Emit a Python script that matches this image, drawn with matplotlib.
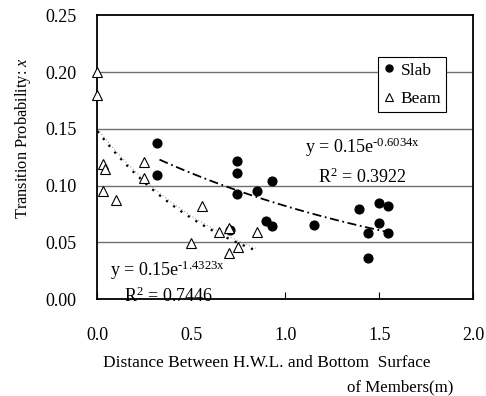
import numpy as np
import matplotlib.pyplot as plt

plt.rcParams['font.family'] = ['Liberation Serif', 'DejaVu Serif']
plt.rcParams['mathtext.fontset'] = 'custom'
plt.rcParams['mathtext.rm'] = 'Liberation Serif'
plt.rcParams['mathtext.it'] = 'Liberation Serif:italic'

# Slab points (distance m, transition probability)
slab_x = [0.315, 0.315, 0.743, 0.743, 0.743, 0.849, 0.927, 0.897, 0.927, 0.707,
          1.154, 1.394, 1.50, 1.548, 1.50, 1.441, 1.548, 1.441]
slab_y = [0.138, 0.109, 0.122, 0.111, 0.093, 0.095, 0.104, 0.069, 0.064, 0.061,
          0.065, 0.079, 0.085, 0.082, 0.067, 0.058, 0.058, 0.036]

# Beam points
beam_x = [0.0, 0.0, 0.028, 0.041, 0.028, 0.096, 0.25, 0.25, 0.557, 0.50,
          0.649, 0.698, 0.698, 0.748, 0.849]
beam_y = [0.200, 0.180, 0.119, 0.115, 0.095, 0.087, 0.121, 0.107, 0.082, 0.049,
          0.059, 0.063, 0.041, 0.046, 0.059]

# exponential trend lines y = a*exp(b*x), shown on the chart
slab_a, slab_b, slab_r2 = 0.15, -0.6034, 0.3922
beam_a, beam_b, beam_r2 = 0.15, -1.4323, 0.7446
slab_range = (0.33, 1.55)
beam_range = (0.0, 0.85)

fig = plt.figure(figsize=(4.86, 3.96), dpi=100)
ax = fig.add_axes([0.2006, 0.2449, 0.7733, 0.7160])

for y in [0.05, 0.10, 0.15, 0.20]:
    ax.axhline(y, color='#707070', linewidth=1.0, zorder=0)

xs = np.linspace(*beam_range, 60)
ax.plot(xs, beam_a * np.exp(beam_b * xs), color='#a0a0a0', linestyle=(0, (1, 2)), linewidth=0.8, zorder=1)
ax.plot(xs, beam_a * np.exp(beam_b * xs) - 0.002, color='black', linestyle=(0, (1, 3)), linewidth=1.6, zorder=1)
xs = np.linspace(*slab_range, 60)
ax.plot(xs, slab_a * np.exp(slab_b * xs), color='black', linestyle=(0, (5, 2, 1, 2)), linewidth=1.3, zorder=1)

ax.plot(slab_x, slab_y, 'o', color='black', markersize=6.3, label='Slab', zorder=3, clip_on=False)
ax.plot(beam_x, beam_y, '^', markerfacecolor='white', markeredgecolor='black', markeredgewidth=0.8,
        markersize=7, label='Beam', zorder=3, clip_on=False)

hy = '\u2010'
ax.text(1.41, 0.134, r'y = 0.15e$^{\mathregular{' + hy + r'0.6034x}}$', fontsize=13, ha='center', va='center')
ax.text(1.41, 0.107, r'R$^{\mathregular{2}}$ = %.4f' % slab_r2, fontsize=13, ha='center', va='center')
ax.text(0.37, 0.0256, r'y = 0.15e$^{\mathregular{' + hy + r'1.4323x}}$', fontsize=13, ha='center', va='center')
ax.text(0.38, 0.002, r'R$^{\mathregular{2}}$ = %.4f' % beam_r2, fontsize=13, ha='center', va='center')

ax.set_xlim(0, 2.0)
ax.set_ylim(0, 0.25)
ax.set_xticks([0.0, 0.5, 1.0, 1.5, 2.0])
ax.set_xticklabels(['0.0', '0.5', '1.0', '1.5', '2.0'])
ax.set_yticks([0.0, 0.05, 0.10, 0.15, 0.20, 0.25])
ax.set_yticklabels(['0.00', '0.05', '0.10', '0.15', '0.20', '0.25'])
ax.tick_params(axis='x', direction='in', length=5, pad=20, labelsize=13)
ax.tick_params(axis='y', length=0, pad=15, labelsize=13)
for s in ax.spines.values():
    s.set_linewidth(1.3)

leg = ax.legend(loc='upper left', bbox_to_anchor=(0.746, 0.853), fontsize=12.5, frameon=True,
                fancybox=False, edgecolor='black', framealpha=1, handlelength=0.7,
                handletextpad=0.3, borderpad=0.3, labelspacing=0.7, borderaxespad=0,
                markerscale=0.8)
leg.get_frame().set_linewidth(0.8)

fig.text(103 / 486, 1 - 363 / 396, 'Distance Between H.W.L. and Bottom  Surface', fontsize=12.4, va='center')
fig.text(347 / 486, 1 - 387 / 396, 'of Members(m)', fontsize=12.2, va='center')
fig.text(23 / 486, 1 - 138 / 396, r'Transition Probability: $\mathit{x}$', fontsize=11.8,
         rotation=90, ha='center', va='center')

plt.savefig('out.png', dpi=100)
